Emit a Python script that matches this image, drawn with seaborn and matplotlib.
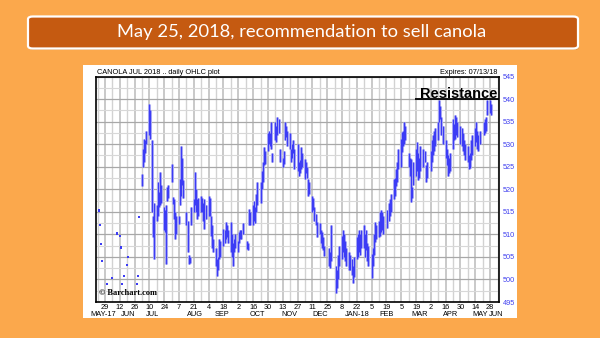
import numpy as np
import pandas as pd
import matplotlib
matplotlib.use("Agg")
import matplotlib.pyplot as plt
from matplotlib.patches import FancyBboxPatch, Rectangle
from matplotlib.transforms import blended_transform_factory
import seaborn as sns

nan = np.nan

# ---------------- data ----------------
# isolated early trades (thin market before July)
sparse_dates = ["2017-05-23", "2017-05-24", "2017-05-25", "2017-05-26", "2017-05-31",
                "2017-06-05", "2017-06-09", "2017-06-12", "2017-06-13", "2017-06-14",
                "2017-06-16", "2017-06-19", "2017-06-20", "2017-06-28", "2017-06-29",
                "2017-06-30"]
sparse_prices = [515.3, 512.1, 507.9, 504.1, 499.0, 500.4, 510.2, 509.7, 507.1, 499.0,
                 500.8, 503.2, 504.9, 499.0, 500.8, 513.8]

# daily lows / highs, business days 2017-07-03 .. 2018-05-29 (one row per week, Mon-Fri)
lows = [
    520.8, 525.0, 526.0, 528.0, 530.0,
    532.0, 531.2, 515.0, 509.5, 504.5,
    513.0, 514.0, 516.0, 516.4, 517.0,
    511.0, 510.5, 503.4, 517.5, 518.0,
    521.6, 516.7, 513.4, 509.0, 510.0,
    512.3, 516.4, 518.6, 521.0, 518.0,
    512.0, 506.0, 503.4, 503.6, 512.0,
    514.9, 516.4, 515.0, 513.4, 514.0,
    514.9, 515.0, 513.0, 511.2, 513.4,
    514.1, 514.0, 509.7, 507.0, 506.0,
    503.0, 500.8, 502.0, 504.5, 505.0,
    507.5, 508.0, 509.0, 509.5, 508.0,
    506.0, 505.0, 503.0, 506.0, 507.0,
    506.0, 508.0, 509.0, 509.0, 510.0,
    nan, 506.7, 506.5, 512.0, 512.0,
    512.0, 513.0, 512.5, 515.0, 516.4,
    517.0, 520.0, 521.5, 525.3, 525.5,
    528.5, 530.0, 529.5, 529.0, 526.0,
    531.0, 530.5, 532.0, 532.5, 526.0,
    525.0, 525.5, 531.0, 531.5, 529.5,
    529.0, 526.0, 527.0, 528.0, 524.5,
    524.0, 523.0, 523.5, 524.5, 525.0,
    522.3, 523.5, 522.5, 518.6, 519.0,
    515.0, 515.5, 513.0, 512.0, 509.5,
    510.0, 508.0, 507.0, 506.5, 505.3,
    nan, nan, 503.0, 502.5, 504.0,
    nan, 497.1, 498.0, 500.0, 503.0,
    504.5, 506.0, 505.0, 504.0, 503.0,
    502.0, 502.0, 501.0, 499.3, 500.5,
    504.5, 505.0, 506.0, 505.5, 507.0,
    507.0, 505.0, 506.5, 504.0, 503.0,
    500.4, 503.0, 505.5, 508.2, 509.0,
    509.5, 509.7, 510.5, 511.0, 510.0,
    nan, 511.5, 513.0, 514.1, 515.0,
    517.9, 518.5, 520.8, 521.5, 524.5,
    525.0, 528.2, 529.5, 530.0, 531.0,
    525.0, 523.0, 517.1, 518.0, 521.0,
    523.0, 524.0, 522.0, 522.5, 524.0,
    525.0, 526.0, 521.6, 522.5, nan,
    524.0, 526.0, 527.5, 528.5, 529.5,
    531.0, 534.9, 535.5, 532.0, 530.0,
    527.0, 525.3, 523.0, 523.5, 524.0,
    529.0, 531.0, 531.2, 532.0, 531.5,
    530.0, 529.5, 528.5, 527.5, 526.5,
    526.0, 524.5, 524.8, 526.5, 527.5,
    529.5, 530.5, 529.0, 528.5, 530.0,
    nan, 532.0, 532.5, 533.0, 536.4,
    537.0, 536.5,
]
highs = [
    523.4, 529.0, 531.2, 531.0, 533.0,
    539.0, 537.5, 531.0, 514.0, 517.0,
    516.5, 521.6, 519.5, 523.8, 521.0,
    516.0, 515.5, 516.4, 520.4, 521.0,
    525.6, 518.2, 517.9, 514.9, 514.0,
    514.1, 522.3, 529.7, 527.0, 522.0,
    515.0, 513.0, 505.5, 505.0, 516.0,
    517.9, 523.8, 520.0, 517.9, 518.0,
    518.6, 518.0, 517.0, 517.9, 516.4,
    518.6, 518.0, 514.1, 512.0, 509.0,
    507.0, 504.5, 505.0, 509.0, 508.5,
    511.2, 511.0, 512.7, 512.0, 511.0,
    512.7, 510.0, 508.0, 509.0, 510.0,
    508.5, 510.5, 511.0, 511.0, 512.5,
    nan, 508.6, 508.0, 515.6, 515.0,
    516.5, 517.5, 516.0, 519.0, 521.6,
    521.6, 524.0, 526.0, 529.3, 528.5,
    532.5, 533.0, 532.5, 534.9, 528.0,
    534.9, 534.0, 536.0, 535.5, 529.0,
    527.0, 528.5, 535.0, 534.0, 533.0,
    532.5, 529.0, 530.0, 531.0, 529.0,
    530.0, 526.0, 526.5, 529.3, 528.0,
    526.7, 526.0, 525.0, 522.3, 521.5,
    518.6, 518.0, 516.0, 514.5, 512.7,
    512.5, 511.0, 510.5, 509.5, 507.5,
    nan, nan, 507.0, 506.0, 512.0,
    nan, 503.0, 502.0, 505.5, 507.5,
    509.7, 511.0, 510.0, 508.5, 507.0,
    506.0, 505.5, 504.5, 503.0, 505.0,
    509.5, 510.0, 511.0, 510.0, 511.0,
    512.0, 510.0, 511.0, 508.0, 507.5,
    505.6, 507.0, 510.0, 512.7, 512.0,
    513.0, 514.9, 515.3, 515.0, 514.0,
    nan, 515.5, 517.0, 517.9, 519.0,
    522.3, 522.5, 524.5, 526.0, 529.0,
    531.2, 532.7, 533.0, 534.9, 534.0,
    528.0, 527.0, 526.7, 520.5, 526.0,
    529.0, 530.5, 528.0, 527.0, 529.5,
    529.0, 528.5, 525.3, 526.0, nan,
    528.5, 531.0, 532.0, 533.0, 533.5,
    535.0, 539.7, 538.5, 536.0, 534.0,
    531.0, 529.0, 527.5, 527.0, 528.0,
    535.6, 534.5, 536.4, 536.0, 535.0,
    534.0, 533.5, 532.5, 531.0, 530.0,
    529.5, 527.5, 528.0, 531.0, 532.0,
    533.5, 535.0, 533.0, 532.0, 533.0,
    nan, 535.0, 535.6, 536.0, 539.7,
    539.7, 539.0,
]

price_ticks = [495, 500, 505, 510, 515, 520, 525, 530, 535, 540, 545]
x_tick_dates = ["2017-05-29", "2017-06-12", "2017-06-26", "2017-07-10", "2017-07-24",
                "2017-08-07", "2017-08-21", "2017-09-04", "2017-09-18", "2017-10-02",
                "2017-10-16", "2017-10-30", "2017-11-13", "2017-11-27", "2017-12-11",
                "2017-12-25", "2018-01-08", "2018-01-22", "2018-02-05", "2018-02-19",
                "2018-03-05", "2018-03-19", "2018-04-02", "2018-04-16", "2018-04-30",
                "2018-05-14", "2018-05-28"]
x_tick_labels = ["29", "12", "26", "10", "24", "7", "21", "4", "18", "2", "16", "30",
                 "13", "27", "11", "25", "8", "22", "5", "19", "5", "19", "2", "16",
                 "30", "14", "28"]
month_labels = ["MAY-17", "JUN", "JUL", "AUG", "SEP", "OCT", "NOV", "DEC", "JAN-18",
                "FEB", "MAR", "APR", "MAY", "JUN"]
month_label_dates = ["2017-05-27", "2017-06-20", "2017-07-13", "2017-08-22", "2017-09-17",
                     "2017-10-20", "2017-11-19", "2017-12-18", "2018-01-22", "2018-02-19",
                     "2018-03-22", "2018-04-21", "2018-05-19", "2018-06-03"]
resistance_level = 540
resistance_start = "2018-03-18"

# ---------------- frame ----------------
days = pd.bdate_range("2017-07-03", "2018-05-29")
df = pd.DataFrame({"date": days, "low": lows, "high": highs}).dropna()
sp = pd.DataFrame({"date": pd.to_datetime(sparse_dates), "price": sparse_prices})

sns.set_style("white")
plt.rcParams["font.family"] = ["Liberation Sans", "DejaVu Sans"]

ORANGE = "#FBA84C"
BANNER = "#C55A11"
DARK = "#3C3CF5"
LIGHT = "#ABABF3"

W, H = 600, 338
fig = plt.figure(figsize=(6, 3.38), dpi=100, facecolor=ORANGE)

# white chart panel
fig.patches.append(Rectangle((83 / W, 1 - 318 / H), 434 / W, 253 / H,
                             transform=fig.transFigure, fc="white", ec="none", zorder=-2))
# banner with shadow
fig.patches.append(FancyBboxPatch((29 / W, 1 - 50 / H), 550 / W, 32 / H,
                                  boxstyle="round,pad=0,rounding_size=0.008",
                                  transform=fig.transFigure, fc="#9a5a20", ec="none",
                                  alpha=0.35, zorder=-1))
fig.patches.append(FancyBboxPatch((28 / W, 1 - 48.5 / H), 550 / W, 32 / H,
                                  boxstyle="round,pad=0,rounding_size=0.008",
                                  transform=fig.transFigure, fc=BANNER, ec="white",
                                  lw=1.6, zorder=-1))
fig.text(302 / W, 1 - 32.5 / H, "May 25, 2018, recommendation to sell canola",
         color="white", fontsize=13.2, ha="center", va="center", family="Lato")

ax = fig.add_axes([96 / W, 1 - 302 / H, 403 / W, 225.5 / H])
ax.set_facecolor("white")

x0 = pd.Timestamp("2017-05-29")
ax.set_xlim(x0 - pd.Timedelta(days=8.5), x0 + pd.Timedelta(days=372.4))
ax.set_ylim(price_ticks[0], price_ticks[-1])

# grid
ax.set_yticks(price_ticks)
ax.set_yticks(np.arange(price_ticks[0], price_ticks[-1], 2.5), minor=True)
week_lines = pd.date_range("2017-05-22", "2018-06-04", freq="7D")
ax.set_xticks(week_lines, minor=True)
ax.set_xticks(pd.to_datetime(x_tick_dates))
ax.set_xticklabels(x_tick_labels)
ax.grid(which="major", axis="y", color="#a8a8a8", lw=0.9)
ax.grid(which="minor", axis="y", color="#d8d8d8", lw=0.8)
ax.grid(which="major", axis="x", color="#c0c0c0", lw=1.2)
ax.grid(which="minor", axis="x", color="#d2d2d2", lw=1.0)
ax.set_axisbelow(True)

ax.yaxis.tick_right()
ax.tick_params(axis="y", which="both", length=0, labelsize=5.3, labelcolor="#4040F0", pad=3)
ax.tick_params(axis="x", which="both", length=0, labelsize=5.3, labelcolor="black", pad=1.5)
for s in ax.spines.values():
    s.set_color("black")
    s.set_linewidth(1.2)

# OHLC bars (high-low ranges)
ax.vlines(df["date"], df["low"], df["high"], color=LIGHT, lw=2.2, zorder=2)
ax.vlines(df["date"], df["low"], df["high"], color=DARK, lw=0.8, zorder=3)
sns.scatterplot(data=sp, x="date", y="price", ax=ax, marker="s", s=2.5, color=DARK,
                edgecolor="none", zorder=3, legend=False)
ax.set_xlabel("")
ax.set_ylabel("")

# month labels
trans = blended_transform_factory(ax.transData, ax.transAxes)
for lab, d in zip(month_labels, month_label_dates):
    ax.text(pd.Timestamp(d), -0.04, lab, transform=trans, ha="center", va="top",
            fontsize=5.3, color="black", clip_on=False)

# resistance
ax.hlines(resistance_level, pd.Timestamp(resistance_start), ax.get_xlim()[1],
          color="black", lw=1.3, zorder=4)
ax.text(0.995, 0.906, "Resistance", transform=ax.transAxes, ha="right", va="baseline",
        fontsize=10.5, fontweight="bold", color="black", zorder=5)

# header texts
fig.text(97 / W, 1 - 72 / H, "CANOLA JUL 2018 .. daily OHLC plot", fontsize=5.3,
         ha="left", va="center", color="black")
fig.text(497 / W, 1 - 72 / H, "Expires: 07/13/18", fontsize=5.3,
         ha="right", va="center", color="black")
ax.text(0.008, 0.042, "\u00a9 Barchart.com", transform=ax.transAxes, ha="left",
        va="center", fontsize=6, fontweight="bold", family="Liberation Serif", color="black")

fig.savefig("out.png", dpi=100, facecolor=ORANGE)
